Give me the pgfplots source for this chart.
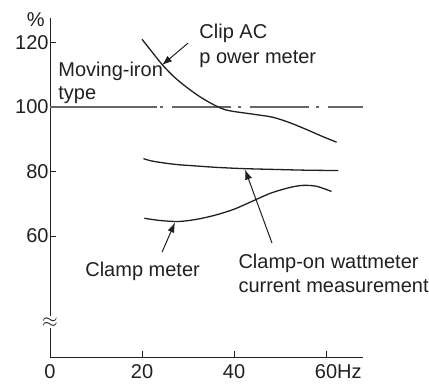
\documentclass[border=0pt]{standalone}
\usepackage{fontspec}
\setmainfont{Liberation Sans}
\usepackage{pgfplots}
\pgfplotsset{compat=1.18}
\usetikzlibrary{arrows.meta}
\definecolor{ink}{HTML}{231F20}
\begin{document}
\begin{tikzpicture}
\begin{axis}[
  x=2.3pt, y=1.6125pt,
  xmin=0, xmax=68, ymin=22.48, ymax=127.6,
  axis lines=left,
  axis line style={-, line width=0.5pt, color=ink},
  tick style={line width=0.5pt, color=ink},
  tick align=inside,
  major tick length=3.2pt,
  xtick={0,20,40,60},
  xticklabels={0,20,40,60\rlap{Hz}},
  ytick={60,80,100,120},
  yticklabels={60,80,100,120},
  xticklabel style={font=\fontsize{10}{12}\selectfont, text=ink, inner sep=0pt, anchor=north, yshift=-3.5pt},
  yticklabel style={font=\fontsize{10}{12}\selectfont, text=ink, inner sep=0pt, anchor=east, xshift=-0.5pt},
  clip=false,
  enlargelimits=false,
]
% invisible frame to fix picture extent
\addplot[draw=none, forget plot] coordinates {(-10.87,13.8) (82.39,133.18)};

% moving-iron reference line (dash-dot)
\addplot[color=black!60, line width=0.6pt] coordinates {(0,100) (23.26,100)};
\addplot[color=black!60, line width=0.6pt, dash pattern=on 1.5pt off 4.5pt on 29.5pt off 3.5pt] coordinates {(23.91,100) (68,100)};

% Clip AC power meter
\addplot[smooth, color=ink, line width=0.65pt] coordinates {
(20,121) (22,117.4) (24.3,113.3) (27,109.3) (30,105.8) (33,102.8) (36,100.4) (38,99.2) (40,98.6) (42,98.2) (45,97.6) (48.5,96.8) (52,95.2) (55.8,93.0) (59,91.0) (62.3,89.1)};

% Clamp-on wattmeter current measurement
\addplot[smooth, color=ink, line width=0.65pt] coordinates {
(20.3,84.0) (22,83.3) (25,82.6) (28,82.1) (32,81.7) (36,81.3) (42,80.9) (50,80.6) (56,80.4) (62.7,80.3)};

% Clamp meter
\addplot[smooth, color=ink, line width=0.65pt] coordinates {
(20.5,65.5) (24,64.8) (28,64.5) (32,65.2) (36,66.5) (40,68.3) (44,70.8) (48,73.3) (52,75.0) (55,75.7) (58,75.4) (61.2,73.8)};

% arrows
\addplot[color=ink, line width=0.5pt, -{Latex[length=5pt,width=3.6pt]}] coordinates {(30.0,119.8) (24.35,113.0)};
\addplot[color=ink, line width=0.5pt, -{Latex[length=5pt,width=3.6pt]}] coordinates {(48.26,57.8) (42.4,80.6)};
\addplot[color=ink, line width=0.5pt, -{Latex[length=5pt,width=3.6pt]}] coordinates {(24.35,55.0) (27.17,64.2)};

% labels
\node[anchor=east, inner sep=0pt, text=ink, font=\fontsize{10}{12}\selectfont] at (axis cs:-1.1,127.2) {\%};
\node[anchor=base west, inner sep=0pt, text=ink, font=\fontsize{10}{12}\selectfont] at (axis cs:32.4,121.1) {Clip AC};
\node[anchor=base west, inner sep=0pt, text=ink, font=\fontsize{10}{12}\selectfont] at (axis cs:32.4,113.6) {p ower meter};
\node[anchor=base west, inner sep=0pt, text=ink, font=\fontsize{10}{12}\selectfont] at (axis cs:1.74,109.6) {Moving-iron};
\node[anchor=base west, inner sep=0pt, text=ink, font=\fontsize{10}{12}\selectfont] at (axis cs:1.74,102.3) {type};
\node[anchor=base west, inner sep=0pt, text=ink, font=\fontsize{10}{12}\selectfont] at (axis cs:7.6,47.6) {Clamp meter};
\node[anchor=base west, inner sep=0pt, text=ink, font=\fontsize{10}{12}\selectfont] at (axis cs:40.9,49.8) {Clamp-on wattmeter};
\node[anchor=base west, inner sep=0pt, text=ink, font=\fontsize{10}{12}\selectfont] at (axis cs:40.9,42.6) {current measurement};

% axis break symbol
\node[fill=white, inner sep=0.6pt, text=ink] at (axis cs:0,33.2) {$\approx$};
\end{axis}
\end{tikzpicture}
\end{document}
